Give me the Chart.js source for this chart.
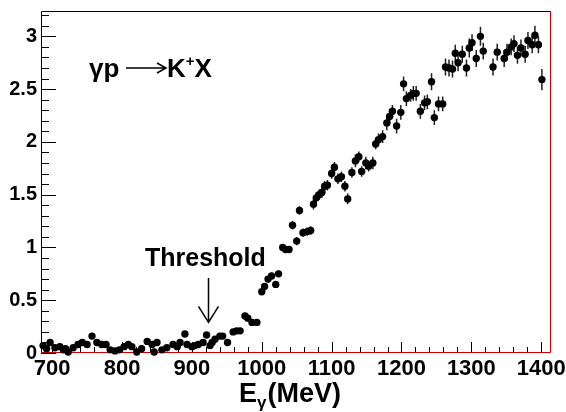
<!DOCTYPE html>
<html>
<head>
<meta charset="utf-8">
<script src="https://cdn.jsdelivr.net/npm/chart.js@4"></script>
<style>
  body { margin: 0; background: #fff; }
  canvas { display: block; }
</style>
</head>
<body>
<canvas id="kaonChart" width="566" height="412"></canvas>
<script>
const energies = [
  687, 692, 697, 704, 711, 716, 719, 723, 730, 737,
  743, 750, 757, 764, 771, 777, 783, 790, 796, 803,
  809, 814, 821, 828, 836, 843, 846, 850, 857, 864,
  873, 879, 883, 890, 893, 900, 904, 909, 916, 921,
  926, 929, 933, 940, 944, 951, 959, 964, 969, 976,
  980, 986, 993, 1000, 1004, 1009, 1014, 1020, 1024, 1030,
  1034, 1039, 1044, 1050, 1054, 1059, 1065, 1070, 1074, 1078,
  1082, 1086, 1090, 1094, 1100, 1104, 1109, 1114, 1119, 1123,
  1129, 1134, 1139, 1143, 1149, 1153, 1159, 1163, 1167, 1173,
  1179, 1183, 1187, 1193, 1199, 1203, 1207, 1213, 1217, 1221,
  1227, 1233, 1237, 1243, 1247, 1253, 1259, 1263, 1268, 1273,
  1277, 1281, 1287, 1293, 1297, 1301, 1307, 1313, 1317, 1331,
  1337, 1347, 1351, 1357, 1361, 1366, 1371, 1377, 1381, 1387,
  1391, 1396, 1401
];

const yields = [
  0.07, 0.04, 0.10, 0.05, 0.06, 0.03, 0.04, 0.01, 0.05, 0.08,
  0.10, 0.08, 0.16, 0.10, 0.08, 0.08, 0.03, 0.02, 0.03, 0.06,
  0.08, 0.06, 0.01, 0.04, 0.11, 0.08, 0.01, 0.10, 0.03, 0.05,
  0.08, 0.06, 0.10, 0.18, 0.08, 0.06, 0.07, 0.08, 0.10, 0.17,
  0.07, 0.10, 0.13, 0.16, 0.16, 0.10, 0.20, 0.21, 0.21, 0.35,
  0.33, 0.29, 0.29, 0.58, 0.63, 0.70, 0.73, 0.65, 0.75, 1.00,
  0.98, 0.98, 1.21, 1.06, 1.35, 1.14, 1.15, 1.16, 1.41, 1.47,
  1.50, 1.52, 1.58, 1.59, 1.70, 1.76, 1.65, 1.67, 1.58, 1.46,
  1.71, 1.82, 1.86, 1.72, 1.80, 1.77, 1.80, 1.98, 2.02, 2.05,
  2.18, 2.24, 2.29, 2.15, 2.28, 2.55, 2.41, 2.44, 2.46, 2.46,
  2.29, 2.37, 2.38, 2.57, 2.23, 2.36, 2.36, 2.71, 2.70, 2.69,
  2.84, 2.75, 2.83, 2.70, 2.89, 2.94, 2.79, 3.00, 2.86, 2.71,
  2.85, 2.79, 2.85, 2.90, 2.93, 2.82, 2.89, 2.83, 2.96, 2.92,
  3.01, 2.92, 2.59
];

const errors = [
  0.02, 0.02, 0.02, 0.02, 0.02, 0.02, 0.02, 0.02, 0.02, 0.02,
  0.02, 0.02, 0.02, 0.02, 0.02, 0.02, 0.02, 0.02, 0.02, 0.02,
  0.02, 0.02, 0.02, 0.02, 0.02, 0.02, 0.02, 0.02, 0.02, 0.02,
  0.02, 0.02, 0.02, 0.02, 0.02, 0.02, 0.02, 0.02, 0.02, 0.02,
  0.02, 0.02, 0.02, 0.02, 0.02, 0.02, 0.02, 0.02, 0.02, 0.03,
  0.03, 0.03, 0.03, 0.03, 0.03, 0.03, 0.03, 0.03, 0.03, 0.03,
  0.03, 0.03, 0.04, 0.04, 0.04, 0.04, 0.04, 0.04, 0.05, 0.05,
  0.05, 0.05, 0.05, 0.05, 0.05, 0.05, 0.05, 0.05, 0.05, 0.05,
  0.05, 0.06, 0.05, 0.05, 0.06, 0.05, 0.06, 0.05, 0.06, 0.06,
  0.07, 0.07, 0.06, 0.07, 0.07, 0.07, 0.07, 0.06, 0.07, 0.07,
  0.07, 0.07, 0.07, 0.08, 0.07, 0.07, 0.07, 0.08, 0.08, 0.08,
  0.08, 0.08, 0.08, 0.08, 0.09, 0.08, 0.08, 0.09, 0.08, 0.08,
  0.08, 0.08, 0.08, 0.08, 0.08, 0.08, 0.08, 0.08, 0.08, 0.08,
  0.09, 0.08, 0.10
];

const xTicks = [700, 800, 900, 1000, 1100, 1200, 1300, 1400];
const yTicks = [0, 0.5, 1, 1.5, 2, 2.5, 3];

const FONT = "'Liberation Sans', Arial, Helvetica, sans-serif";

// error bars, frame and inward ticks (ROOT style)
const rootStyle = {
  id: "rootStyle",
  beforeDatasetsDraw(chart) {
    const { ctx, chartArea: a, scales: { x, y } } = chart;
    ctx.save();

    // frame
    ctx.lineWidth = 1;
    ctx.strokeStyle = "#000";
    ctx.beginPath();
    ctx.moveTo(a.left + 0.5, a.bottom);
    ctx.lineTo(a.left + 0.5, a.top + 0.5);
    ctx.lineTo(a.right, a.top + 0.5);
    ctx.stroke();
    ctx.strokeStyle = "#d00000";
    ctx.beginPath();
    ctx.moveTo(a.right - 0.5, a.top);
    ctx.lineTo(a.right - 0.5, a.bottom - 0.5);
    ctx.lineTo(a.left, a.bottom - 0.5);
    ctx.stroke();

    // ticks
    ctx.strokeStyle = "#000";
    ctx.beginPath();
    for (let i = 0; i <= 32; i++) {
      const py = Math.round(y.getPixelForValue(i / 10)) + 0.5;
      if (py < a.top) continue;
      const len = i % 5 === 0 ? 15 : 8;
      ctx.moveTo(a.left, py);
      ctx.lineTo(a.left + len, py);
    }
    for (let v = 700; v <= 1400; v += 20) {
      const px = Math.round(x.getPixelForValue(v)) + 0.5;
      const len = v % 100 === 0 ? 10 : 5;
      ctx.moveTo(px, a.bottom - 1);
      ctx.lineTo(px, a.bottom - 1 - len);
    }
    ctx.stroke();

    // error bars
    ctx.strokeStyle = "#222";
    ctx.lineWidth = 1.5;
    ctx.beginPath();
    energies.forEach((e, i) => {
      const px = x.getPixelForValue(e);
      ctx.moveTo(px, y.getPixelForValue(yields[i] - errors[i]));
      ctx.lineTo(px, y.getPixelForValue(yields[i] + errors[i]));
    });
    ctx.stroke();
    ctx.restore();
  },
  afterDraw(chart) {
    const { ctx, scales: { x, y } } = chart;
    ctx.save();
    ctx.fillStyle = "#000";
    ctx.strokeStyle = "#000";
    ctx.textBaseline = "alphabetic";

    // reaction label
    ctx.font = "bold 26px " + FONT;
    ctx.fillText("γp", 89, 77);
    ctx.lineWidth = 1.5;
    ctx.beginPath();
    ctx.moveTo(126, 68);
    ctx.lineTo(166, 68);
    ctx.moveTo(157, 63);
    ctx.lineTo(166, 68);
    ctx.lineTo(157, 73);
    ctx.stroke();
    ctx.fillText("K", 167, 77);
    const kw = ctx.measureText("K").width;
    ctx.font = "bold 15px " + FONT;
    ctx.fillText("+", 167 + kw, 66);
    const pw = ctx.measureText("+").width;
    ctx.font = "bold 26px " + FONT;
    ctx.fillText("X", 167 + kw + pw, 77);

    // threshold marker
    ctx.font = "bold 25px " + FONT;
    ctx.fillText("Threshold", 145, 266);
    const ax = Math.round(x.getPixelForValue(923)) + 0.5;
    const y0 = y.getPixelForValue(0.71);
    const y1 = y.getPixelForValue(0.29);
    ctx.lineWidth = 1.5;
    ctx.beginPath();
    ctx.moveTo(ax, y0);
    ctx.lineTo(ax, y1);
    ctx.moveTo(ax - 10, y1 - 16);
    ctx.lineTo(ax, y1);
    ctx.lineTo(ax + 10, y1 - 16);
    ctx.stroke();

    // x axis title
    ctx.font = "bold 27px " + FONT;
    ctx.fillText("E", 239, 402);
    const ew = ctx.measureText("E").width;
    ctx.font = "bold 17px " + FONT;
    ctx.fillText("γ", 239 + ew, 408);
    const gw = ctx.measureText("γ").width;
    ctx.font = "bold 27px " + FONT;
    ctx.fillText("(MeV)", 239 + ew + gw + 1, 402);
    ctx.restore();
  }
};

new Chart(document.getElementById("kaonChart"), {
  type: "scatter",
  data: {
    datasets: [{
      data: energies.map((e, i) => ({ x: e, y: yields[i] })),
      backgroundColor: "#000",
      borderColor: "#000",
      pointRadius: 3.7,
      pointHoverRadius: 3.7,
      borderWidth: 0,
      clip: false
    }]
  },
  options: {
    responsive: false,
    animation: false,
    events: [],
    layout: { padding: { top: 11, right: 15, left: 0, bottom: 0 } },
    plugins: {
      legend: { display: false },
      tooltip: { enabled: false }
    },
    scales: {
      x: {
        type: "linear",
        min: 684,
        max: 1414,
        afterBuildTicks: s => { s.ticks = xTicks.map(v => ({ value: v })); },
        afterFit: s => { s.height = 59; s.paddingLeft = 0; s.paddingRight = 0; },
        grid: { display: false, drawTicks: false },
        border: { display: false },
        ticks: {
          color: "#000",
          padding: 3,
          maxRotation: 0,
          autoSkip: false,
          callback: v => String(v),
          font: { family: FONT, weight: "bold", size: 22 }
        }
      },
      y: {
        min: 0,
        max: 3.24,
        afterBuildTicks: s => { s.ticks = yTicks.map(v => ({ value: v })); },
        afterFit: s => { s.width = 41; s.paddingTop = 0; s.paddingBottom = 0; },
        grid: { display: false, drawTicks: false },
        border: { display: false },
        ticks: {
          color: "#000",
          padding: 4,
          autoSkip: false,
          callback: v => String(v),
          font: { family: FONT, weight: "bold", size: 20 }
        }
      }
    }
  },
  plugins: [rootStyle]
});
</script>
</body>
</html>
